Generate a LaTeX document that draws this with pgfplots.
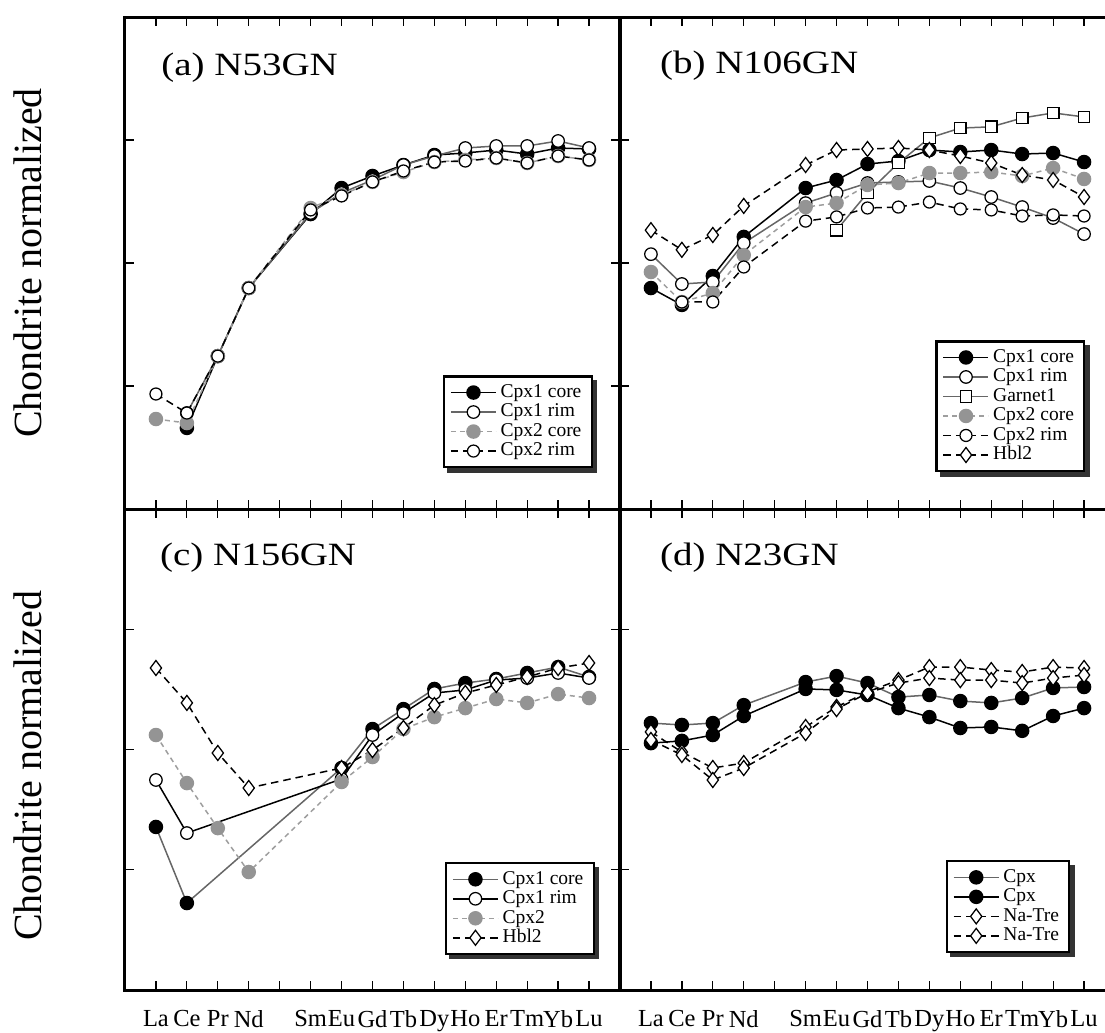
\documentclass[border=0pt]{standalone}
\usepackage{fontspec}
\setmainfont{Liberation Serif}[FakeStretch=1.2]
\newfontfamily\ylfont{Liberation Serif}
\usepackage{pgfplots}
\pgfplotsset{compat=1.18}
\pgfdeclarelayer{background}
\pgfsetlayers{background,main}

\definecolor{grayMark}{gray}{0.58}
\definecolor{grayLine}{gray}{0.62}
\definecolor{midLine}{gray}{0.4}

\pgfplotsset{
  every axis/.append style={
    scale only axis, width=198pt,
    xmin=0, xmax=16, ymin=0.1, ymax=1000,
    xtick={1,...,15}, ytick={1,10,100}, yticklabels={},
    tick align=inside, major tick length=3.5pt,
    tick style={line width=0.5pt, black},
    axis line style={line width=1.2pt},
    xticklabel style={font=\ylfont\fontsize{9.8}{10}\selectfont, yshift=-4.5pt},
    ylabel style={font=\ylfont\fontsize{16}{18}\selectfont, anchor=center},
    legend style={font=\ylfont\fontsize{7.8}{8}\selectfont, draw=black, line width=0.9pt, fill=white,
      inner xsep=2.5pt, inner ysep=2.5pt, row sep=0pt, cells={anchor=west},
      nodes={inner ysep=0.5pt, inner xsep=1.6pt, text height=5.3pt, text depth=1.5pt}},
  },
  legend image code/.code={\draw[mark repeat=2,mark phase=2,#1] plot coordinates {(0pt,0pt) (9pt,0pt) (18pt,0pt)};},
  sCore/.style={black, solid, line width=0.6pt, mark=*, mark size=2.6pt, mark options={fill=black, draw=black, solid}},
  sCoreG/.style={midLine, solid, line width=0.6pt, mark=*, mark size=2.6pt, mark options={fill=black, draw=black, solid}},
  sRim/.style={midLine, solid, line width=0.6pt, mark=*, mark size=2.5pt, mark options={fill=white, draw=black, solid, line width=0.5pt}},
  sRimK/.style={black, solid, line width=0.6pt, mark=*, mark size=2.5pt, mark options={fill=white, draw=black, solid, line width=0.5pt}},
  sTwo/.style={grayLine, line width=0.6pt, dash pattern=on 2pt off 1.6pt, mark=*, mark size=2.6pt, mark options={fill=grayMark, draw=grayMark, solid}},
  sTwoRim/.style={black, line width=0.6pt, dash pattern=on 3pt off 2pt, mark=*, mark size=2.4pt, mark options={fill=white, draw=black, solid, line width=0.5pt}},
  sHbl/.style={black, line width=0.6pt, dash pattern=on 3pt off 2pt, mark=diamond*, mark size=3pt, mark options={fill=white, draw=black, solid, line width=0.5pt}},
  sGrt/.style={midLine, solid, line width=0.6pt, mark=square*, mark size=2.3pt, mark options={fill=white, draw=black, solid, line width=0.5pt}},
}

\begin{document}
\begin{tikzpicture}
% (a) N53GN
\begin{semilogyaxis}[at={(50pt,-6.8pt)}, anchor=north west, height=196.8pt,
  yminorticks=false, xticklabels={}, ylabel={Chondrite normalized},
  ylabel style={at={(axis description cs:-0.196,0.5)}},
  legend style={at={(0.945,0.083)}, anchor=south east, name=legA}]
\addplot[sCore] coordinates {(2,0.456)(3,1.75)(4,6.26)(6,25.0)(7,40.7)(8,51.0)(9,62.6)(10,75.5)(11,78.4)(12,82.9)(13,76.9)(14,86.1)(15,84.5)};
\addplot[sRim] coordinates {(2,0.603)(3,1.75)(4,6.26)(6,25.5)(7,37.1)(8,47.3)(9,62.6)(10,74.1)(11,86.1)(12,89.4)(13,89.4)(14,98.2)(15,86.1)};
\addplot[sTwo] coordinates {(1,0.539)(2,0.500)(3,1.75)(4,6.26)(6,28.0)(7,35.7)(8,45.6)(9,54.9)(10,66.2)(11,68.8)(12,71.4)(13,65.0)(14,74.1)(15,68.8)};
\addplot[sTwoRim] coordinates {(1,0.861)(2,0.603)(3,1.75)(4,6.26)(6,27.0)(7,35.1)(8,45.6)(9,56.0)(10,66.2)(11,67.5)(12,71.4)(13,65.0)(14,74.1)(15,68.8)};
\legend{Cpx1 core,Cpx1 rim,Cpx2 core,Cpx2 rim}
\node[anchor=base west, font=\fontsize{13}{14}\selectfont, xshift=11pt, yshift=-23.2pt] at (rel axis cs:0,1) {(a) N53GN};
\end{semilogyaxis}
% (b) N106GN
\begin{semilogyaxis}[at={(248pt,-6.8pt)}, anchor=north west, height=196.8pt,
  yminorticks=false, xticklabels={},
  legend style={at={(0.94,0.075)}, anchor=south east, name=legB}]
\addplot[sCore] coordinates {(1,6.26)(2,4.56)(3,7.84)(4,16.3)(6,40.7)(7,47.3)(8,63.8)(9,67.5)(10,82.9)(11,79.9)(12,82.9)(13,76.9)(14,78.4)(15,66.2)};
\addplot[sRim] coordinates {(1,11.8)(2,6.75)(3,7.01)(4,14.5)(6,30.7)(7,37.1)(8,44.7)(9,45.6)(10,46.4)(11,40.7)(12,34.4)(13,28.5)(14,23.2)(15,17.2)};
\addplot[sGrt] coordinates {(7,18.5)(8,37.1)(9,65.0)(10,104)(11,125)(12,128)(13,151)(14,166)(15,154)};
\addplot[sTwo] coordinates {(1,8.45)(2,4.82)(3,5.70)(4,11.6)(6,28.5)(7,30.7)(8,43.1)(9,44.7)(10,53.9)(11,53.9)(12,54.9)(13,51.0)(14,59.2)(15,48.2)};
\addplot[sTwoRim] coordinates {(2,4.82)(3,4.82)(4,9.28)(6,21.9)(7,23.7)(8,28.0)(9,28.5)(10,31.3)(11,27.5)(12,27.0)(13,24.1)(14,24.6)(15,24.1)};
\addplot[sHbl] coordinates {(1,18.5)(2,12.8)(3,16.9)(4,29.1)(6,62.6)(7,82.9)(8,84.5)(9,86.1)(10,82.9)(11,74.1)(12,65.0)(13,51.9)(14,47.3)(15,34.4)};
\legend{Cpx1 core,Cpx1 rim,Garnet1,Cpx2 core,Cpx2 rim,Hbl2}
\node[anchor=base west, font=\fontsize{13}{14}\selectfont, xshift=12.5pt, yshift=-22.4pt] at (rel axis cs:0,1) {(b) N106GN};
\end{semilogyaxis}
% (c) N156GN
\begin{semilogyaxis}[at={(50pt,-203.6pt)}, anchor=north west, height=192.4pt,
  yminorticks=false, xticklabels={La,Ce,Pr,Nd,,Sm,Eu,Gd,Tb,Dy,Ho,Er,Tm,Yb,Lu},
  ylabel={Chondrite normalized}, ylabel style={at={(axis description cs:-0.196,0.466)}},
  legend style={at={(0.949,0.073)}, anchor=south east, name=legC}]
\addplot[sCoreG] coordinates {(1,2.27)(2,0.529)(7,7.02)(8,14.8)(9,21.7)(10,31.9)(11,35.7)(12,38.6)(13,43.3)(14,48.5)(15,40.1)};
\addplot[sRimK] coordinates {(1,5.58)(2,2.02)(7,5.69)(8,13.2)(9,20.1)(10,29.5)(11,31.3)(12,37.8)(13,39.3)(14,43.3)(15,39.3)};
\addplot[sTwo] coordinates {(1,13.2)(2,5.26)(3,2.22)(4,0.958)(7,5.37)(8,8.66)(9,14.8)(10,18.6)(11,22.1)(12,26.3)(13,24.4)(14,28.9)(15,26.8)};
\addplot[sHbl] coordinates {(1,47.6)(2,24.4)(3,9.35)(4,4.79)(7,7.02)(8,9.90)(9,15.1)(10,23.4)(11,29.5)(12,34.4)(13,40.1)(14,47.6)(15,52.4)};
\legend{Cpx1 core,Cpx1 rim,Cpx2,Hbl2}
\node[anchor=base west, font=\fontsize{13}{14}\selectfont, xshift=10.5pt, yshift=-22.4pt] at (rel axis cs:0,1) {(c) N156GN};
\end{semilogyaxis}
% (d) N23GN
\begin{semilogyaxis}[at={(248pt,-203.6pt)}, anchor=north west, height=192.4pt,
  yminorticks=false, xticklabels={La,Ce,Pr,Nd,,Sm,Eu,Gd,Tb,Dy,Ho,Er,Tm,Yb,Lu},
  legend style={at={(0.91,0.077)}, anchor=south east, name=legD}]
\addplot[sCoreG] coordinates {(1,16.6)(2,16.0)(3,16.6)(4,23.4)(6,36.4)(7,40.8)(8,35.7)(9,27.3)(10,28.4)(11,25.3)(12,24.4)(13,26.8)(14,32.5)(15,33.1)};
\addplot[sCore] coordinates {(1,11.3)(2,11.8)(3,13.2)(4,19.0)(6,31.9)(7,31.3)(8,28.4)(9,22.1)(10,18.6)(11,15.1)(12,15.4)(13,14.3)(14,19.0)(15,22.1)};
\addplot[sHbl] coordinates {(1,14.0)(2,9.53)(3,7.02)(4,7.72)(6,15.4)(7,22.6)(8,30.1)(9,37.8)(10,48.5)(11,48.5)(12,45.8)(13,44.1)(14,48.5)(15,47.6)};
\addplot[sHbl] coordinates {(1,12.0)(2,9.00)(3,5.58)(4,7.02)(6,13.7)(7,21.7)(8,29.5)(9,35.7)(10,39.3)(11,37.8)(12,37.8)(13,35.7)(14,39.3)(15,41.6)};
\legend{Cpx,Cpx,Na-Tre,Na-Tre}
\node[anchor=base west, font=\fontsize{13}{14}\selectfont, xshift=12.5pt, yshift=-22.4pt] at (rel axis cs:0,1) {(d) N23GN};
\end{semilogyaxis}
\begin{pgfonlayer}{background}
\foreach \L in {legA,legB,legC,legD}
  \fill[black!80] ([shift={(1.8pt,-1.8pt)}]\L.south west) rectangle ([shift={(1.8pt,-1.8pt)}]\L.north east);
\end{pgfonlayer}
\pgfresetboundingbox
\path[use as bounding box] (0,0) rectangle (442pt,-412.8pt);
\end{tikzpicture}
\end{document}
